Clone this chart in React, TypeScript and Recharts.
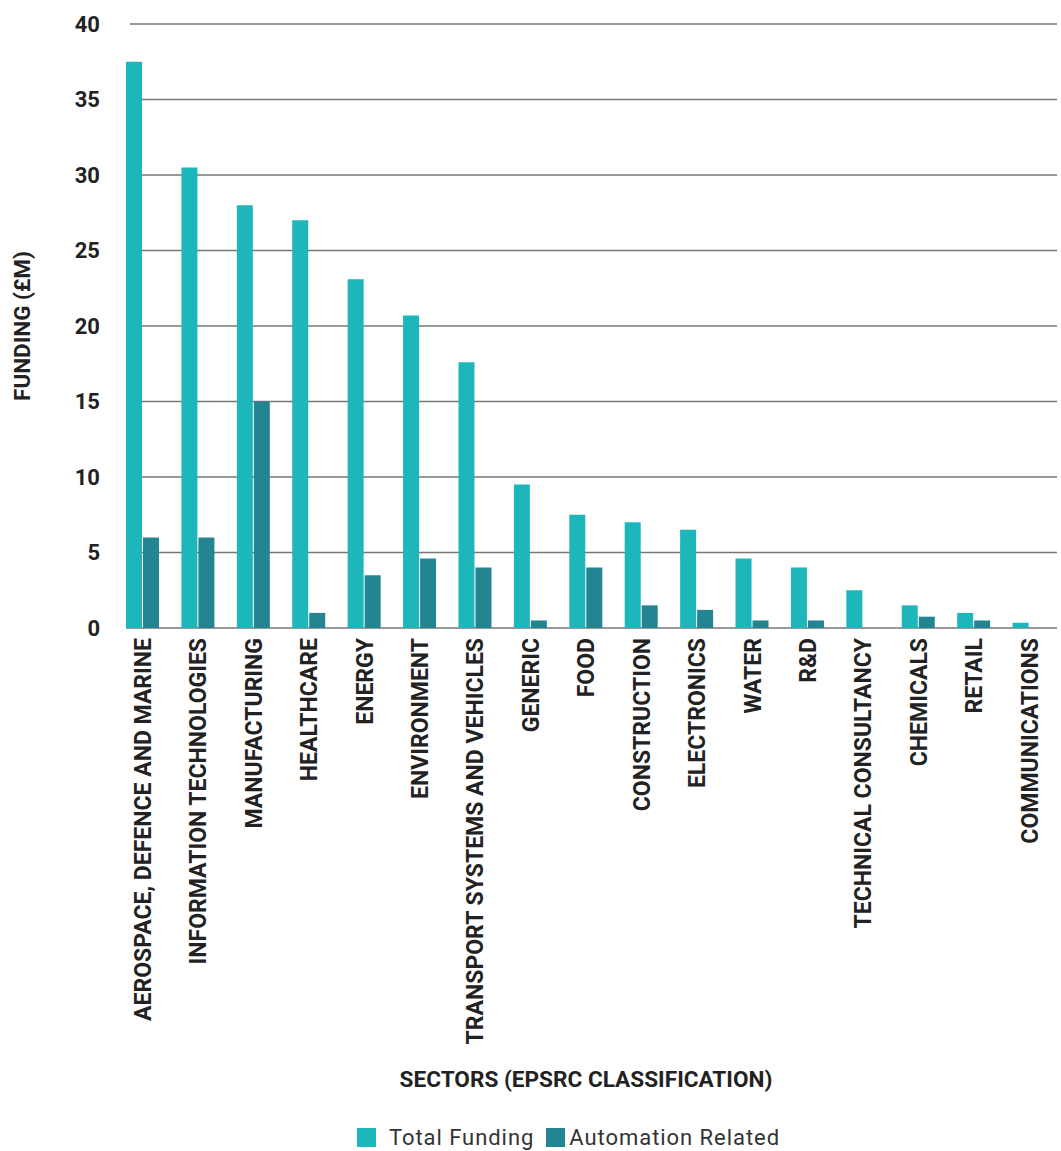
import { BarChart, Bar, XAxis, YAxis, CartesianGrid, Legend } from 'recharts';

const sectors = [
  'AEROSPACE, DEFENCE AND MARINE',
  'INFORMATION TECHNOLOGIES',
  'MANUFACTURING',
  'HEALTHCARE',
  'ENERGY',
  'ENVIRONMENT',
  'TRANSPORT SYSTEMS AND VEHICLES',
  'GENERIC',
  'FOOD',
  'CONSTRUCTION',
  'ELECTRONICS',
  'WATER',
  'R&D',
  'TECHNICAL CONSULTANCY',
  'CHEMICALS',
  'RETAIL',
  'COMMUNICATIONS',
];

const totalFunding = [37.5, 30.5, 28.0, 27.0, 23.1, 20.7, 17.6, 9.5, 7.5, 7.0, 6.5, 4.6, 4.0, 2.5, 1.5, 1.0, 0.35];
const automationRelated = [6.0, 6.0, 15.0, 1.0, 3.5, 4.6, 4.0, 0.5, 4.0, 1.5, 1.2, 0.5, 0.5, 0, 0.75, 0.5, 0];

const yTicks = [0, 5, 10, 15, 20, 25, 30, 35, 40];

const data = sectors.map((sector, i) => ({
  sector,
  total: totalFunding[i],
  automation: automationRelated[i],
}));

const TOTAL_COLOUR = '#1db6ba';
const AUTO_COLOUR = '#248592';
const LABEL_FONT = 'Roboto, sans-serif';

function SectorTick({ x, y, payload }: any) {
  return (
    <g transform={`translate(${x},${y})`}>
      <text
        transform="rotate(-90)"
        x={-2}
        y={0}
        dy="0.36em"
        textAnchor="end"
        fill="#222"
        fontFamily={LABEL_FONT}
        fontWeight={700}
        fontSize={23}
      >
        {payload.value}
      </text>
    </g>
  );
}

// grid lines start a little right of the plot edge, except the baseline
function GridLine(props: any) {
  const { x1, x2, y1, y2, index } = props;
  const isBase = index === 0;
  return (
    <line
      x1={isBase ? x1 + 11 : x1 + 15}
      x2={x2}
      y1={y1}
      y2={y2}
      stroke="#777"
      strokeWidth={1.5}
    />
  );
}

function LegendContent() {
  const items = [
    { label: 'Total Funding', colour: TOTAL_COLOUR, gap: 13 },
    { label: 'Automation Related', colour: AUTO_COLOUR, gap: 4 },
  ];
  return (
    <div
      style={{
        display: 'flex',
        justifyContent: 'center',
        gap: 12,
        paddingTop: 24,
        paddingLeft: 80,
        fontFamily: LABEL_FONT,
        fontSize: 22,
        letterSpacing: 0.95,
        color: '#333',
      }}
    >
      {items.map((item) => (
        <span key={item.label} style={{ display: 'flex', alignItems: 'center', gap: item.gap }}>
          <span style={{ width: 19, height: 19, background: item.colour, display: 'inline-block' }} />
          {item.label}
        </span>
      ))}
    </div>
  );
}

export default function App() {
  return (
    <div style={{ position: 'absolute', left: 0, top: 0, background: '#fff' }}>
      <BarChart
        width={1061}
        height={1151}
        data={data}
        margin={{ top: 24, right: 4, bottom: 0, left: 0 }}
        barSize={16}
        barGap={1}
      >
        <CartesianGrid vertical={false} horizontal={<GridLine />} />
        <XAxis
          dataKey="sector"
          interval={0}
          height={473}
          tick={<SectorTick />}
          tickLine={false}
          axisLine={false}
          label={{
            value: 'SECTORS (EPSRC CLASSIFICATION)',
            position: 'insideBottom',
            offset: 14,
            fill: '#222',
            fontFamily: LABEL_FONT,
            fontWeight: 700,
            fontSize: 22.6,
          }}
        />
        <YAxis
          width={115}
          domain={[0, 40]}
          ticks={yTicks}
          tickLine={false}
          axisLine={false}
          tickMargin={9}
          tick={{ fill: '#222', fontFamily: LABEL_FONT, fontWeight: 700, fontSize: 22 }}
          label={{
            value: 'FUNDING (£M)',
            angle: -90,
            position: 'insideLeft',
            offset: 22,
            fill: '#222',
            fontFamily: LABEL_FONT,
            fontWeight: 700,
            fontSize: 22.5,
            style: { textAnchor: 'middle' },
          }}
        />
        <Legend verticalAlign="bottom" height={50} content={<LegendContent />} />
        <Bar dataKey="total" name="Total Funding" fill={TOTAL_COLOUR} isAnimationActive={false} />
        <Bar dataKey="automation" name="Automation Related" fill={AUTO_COLOUR} isAnimationActive={false} />
      </BarChart>
    </div>
  );
}
